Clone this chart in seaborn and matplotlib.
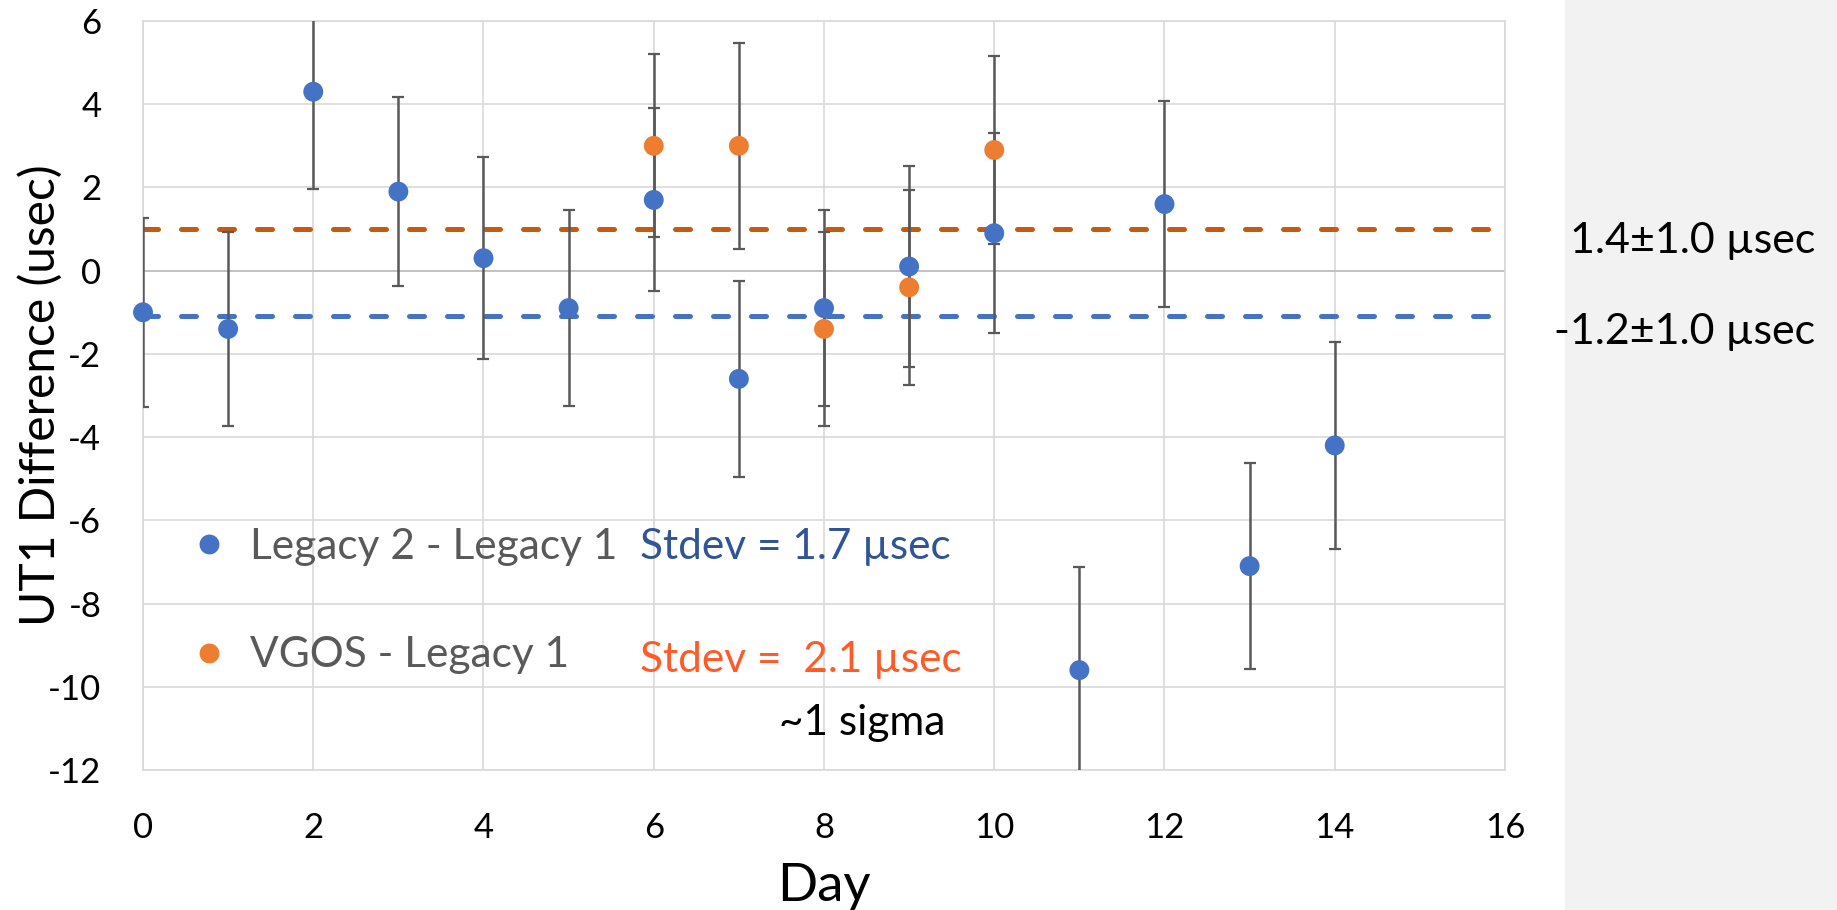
import numpy as np
import pandas as pd
import matplotlib.pyplot as plt
import seaborn as sns
from matplotlib.lines import Line2D
from matplotlib.patches import Rectangle

# UT1 differences per day (usec) with 1-sigma error bars
days_legacy = [0, 1, 2, 3, 4, 5, 6, 7, 8, 9, 10, 11, 12, 13, 14]
diff_legacy = [-1.0, -1.4, 4.3, 1.9, 0.3, -0.9, 1.7, -2.6, -0.9, 0.1, 0.9, -9.6, 1.6, -7.1, -4.2]
err_legacy = [2.27, 2.33, 2.34, 2.27, 2.42, 2.35, 2.2, 2.35, 2.35, 2.42, 2.4, 2.48, 2.48, 2.48, 2.48]

days_vgos = [6, 7, 8, 9, 10]
diff_vgos = [3.0, 3.0, -1.4, -0.4, 2.9]
err_vgos = [2.2, 2.47, 2.33, 2.35, 2.27]

mean_legacy = -1.1
mean_vgos = 1.0

series_names = ["Legacy 2 - Legacy 1", "VGOS - Legacy 1"]
mean_labels = ["1.4\u00b11.0 \u00b5sec", "-1.2\u00b11.0 \u00b5sec"]
stdev_labels = ["Stdev = 1.7 \u00b5sec", "Stdev =  2.1 \u00b5sec"]
x_ticks = list(range(0, 17, 2))
y_ticks = list(range(-12, 7, 2))

BLUE = "#4472C4"
ORANGE = "#ED7D31"
DARK_ORANGE = "#C55A11"
GRID = "#d9d9d9"

sns.set_theme(style="whitegrid")
plt.rcParams["font.family"] = ["Lato", "DejaVu Sans"]
plt.rcParams["axes.unicode_minus"] = False

df = pd.concat([
    pd.DataFrame({"day": days_legacy, "diff": diff_legacy, "series": series_names[0]}),
    pd.DataFrame({"day": days_vgos, "diff": diff_vgos, "series": series_names[1]}),
])

W, H = 1837, 910
fig = plt.figure(figsize=(W / 100, H / 100), dpi=100)
fig.patch.set_facecolor("white")
fig.patches.append(Rectangle((1565 / W, 0), 1 - 1565 / W, 1, transform=fig.transFigure,
                             facecolor="#f2f2f2", edgecolor="none", zorder=0))

ax = fig.add_axes([143 / W, 1 - 770 / H, (1505 - 143) / W, (770 - 21) / H])
ax.set_facecolor("white")

# mean lines
dash = (0, (3.0, 4.6))
ax.plot([0, 16], [mean_vgos, mean_vgos], color=DARK_ORANGE, lw=3.6, linestyle=dash,
        dash_capstyle="round", zorder=2)
ax.plot([0, 16], [mean_legacy, mean_legacy], color=BLUE, lw=3.6, linestyle=dash,
        dash_capstyle="round", zorder=2)

# error bars
for d, v, e in [(days_legacy, diff_legacy, err_legacy), (days_vgos, diff_vgos, err_vgos)]:
    ax.errorbar(d, v, yerr=e, fmt="none", ecolor="#595959", elinewidth=1.8,
                capsize=4.5, capthick=1.6, zorder=3)

sns.scatterplot(data=df, x="day", y="diff", hue="series",
                palette={series_names[0]: BLUE, series_names[1]: ORANGE},
                s=205, edgecolor="none", linewidth=0, legend=False, zorder=4,
                clip_on=False, ax=ax)

ax.set_xlim(0, 16)
ax.set_ylim(-12, 6)
ax.set_xticks(x_ticks)
ax.set_yticks(y_ticks)
ax.grid(True, color=GRID, lw=1.2)
ax.axhline(0, color="#bfbfbf", lw=1.3, zorder=1)
for s in ax.spines.values():
    s.set_color(GRID)
    s.set_linewidth(1.2)
ax.tick_params(axis="both", length=0, labelsize=25, colors="black")
ax.tick_params(axis="x", pad=30)
ax.tick_params(axis="y", pad=30)

ax.set_xlabel("Day", fontsize=38, color="black", labelpad=14)
ax.set_ylabel("UT1 Difference (usec)", fontsize=34.5, color="black")
ax.yaxis.set_label_coords((63 - 143) / 1362, 0.5)

handles = [Line2D([], [], marker="o", linestyle="none", markersize=14.3,
                  markerfacecolor=c, markeredgecolor="none") for c in (BLUE, ORANGE)]
leg = ax.legend(handles, series_names, loc="center left",
                bbox_to_anchor=((196 - 143) / 1362, (770 - 601) / 749),
                frameon=False, fontsize=30.5, labelspacing=1.67, handlelength=0.6,
                handletextpad=0.68, borderpad=0, borderaxespad=0)
for t in leg.get_texts():
    t.set_color("#595959")

ax.text((640 - 143) / 1362, (770 - 547) / 749, stdev_labels[0], transform=ax.transAxes,
        fontsize=30.5, color="#2F5597", ha="left", va="center")
ax.text((640 - 143) / 1362, (770 - 660) / 749, stdev_labels[1], transform=ax.transAxes,
        fontsize=30.5, color="#FF5B29", ha="left", va="center")
ax.text((779 - 143) / 1362, (770 - 723) / 749, "~1 sigma", transform=ax.transAxes,
        fontsize=30.5, color="black", ha="left", va="center")

fig.text(1815 / W, 1 - 241 / H, mean_labels[0], fontsize=31, color="black",
         ha="right", va="center")
fig.text(1815 / W, 1 - 332 / H, mean_labels[1], fontsize=31, color="black",
         ha="right", va="center")

fig.savefig("out.png", dpi=100)
